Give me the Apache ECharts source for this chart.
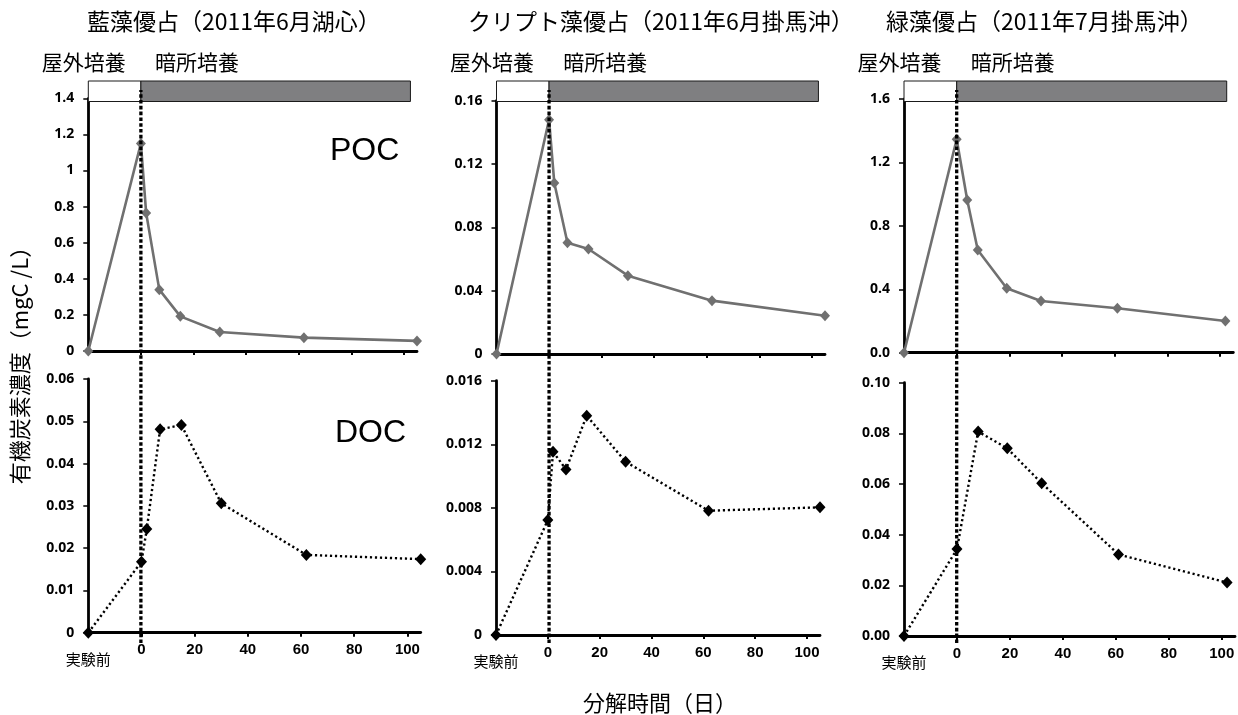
<!DOCTYPE html>
<html>
<head>
<meta charset="utf-8">
<script src="https://cdn.jsdelivr.net/npm/echarts@6/dist/echarts.min.js"></script>
<style>
  html, body { margin: 0; padding: 0; background: #fff; }
  #chart { width: 1238px; height: 715px; }
</style>
</head>
<body>
<div id="chart"></div>
<script>
// ---- data -----------------------------------------------------------
// The sample taken before the experiment is plotted at day -20 ("実験前").
const PRE_DAY = -20;

const panelTitles = ['藍藻優占（2011年6月湖心）', 'クリプト藻優占（2011年6月掛馬沖）', '緑藻優占（2011年7月掛馬沖）'];
const phaseNames = ['屋外培養', '暗所培養'];
// outdoor culture until day 0, then dark incubation
const phaseStart = [PRE_DAY, 0];
const phaseEnd = [0, 102.5];

// 藍藻優占 (湖心)
const pocDays1 = [PRE_DAY, 0, 2, 7, 15, 30, 62, 105];
const pocValues1 = [0, 1.15, 0.765, 0.34, 0.192, 0.105, 0.074, 0.056];
const docDays1 = [PRE_DAY, 0, 2, 7, 15, 30, 62, 105];
const docValues1 = [0, 0.0168, 0.0245, 0.0481, 0.0491, 0.0306, 0.0184, 0.0174];

// クリプト藻優占 (掛馬沖)
const pocDays2 = [PRE_DAY, 0, 2, 7, 15, 30, 62, 105];
const pocValues2 = [0, 0.148, 0.108, 0.0703, 0.0663, 0.0495, 0.0337, 0.0242];
const docDays2 = [PRE_DAY, 0, 2, 7, 15, 30, 62, 105];
const docValues2 = [0, 0.00723, 0.01153, 0.01042, 0.0138, 0.0109, 0.00782, 0.00803];

// 緑藻優占 (掛馬沖)
const pocDays3 = [PRE_DAY, 0, 4, 8, 19, 32, 61, 102];
const pocValues3 = [0, 1.346, 0.963, 0.648, 0.406, 0.326, 0.280, 0.200];
const docDays3 = [PRE_DAY, 0, 8, 19, 32, 61, 102];
const docValues3 = [0, 0.0343, 0.0807, 0.0741, 0.0603, 0.0322, 0.0211];

// ---- axes -----------------------------------------------------------
const dayMin = PRE_DAY;
const dayMax = 105;
const dayStep = 20;
const dayTicks = [0, 20, 40, 60, 80, 100];
const dayLabels = [PRE_DAY, 0, 20, 40, 60, 80, 100];
const preLabel = '実験前';

const pocAxisMax = [1.4, 0.16, 1.6];
const pocAxisStep = [0.2, 0.04, 0.4];
const pocAxisDigits = [null, null, 1];
const docAxisMax = [0.06, 0.016, 0.10];
const docAxisStep = [0.01, 0.004, 0.02];
const docAxisDigits = [null, null, 2];

const yAxisTitle = '有機炭素濃度（mgC /L）';
const xAxisTitle = '分解時間（日）';
const pocName = 'POC';
const docName = 'DOC';

// ---- layout (pixel boxes of each panel) ------------------------------
const boxes = [
  { pocL: 88.3, pocR: 417,    docL: 88.3, docR: 420.7, pocT: 98.3,  pocB: 351,   docT: 379,   docB: 632.7, titleX: 87 },
  { pocL: 496.5, pocR: 825,   docL: 496,  docR: 820,   pocT: 100.7, pocB: 354,   docT: 380.7, docB: 635,   titleX: 468 },
  { pocL: 904,  pocR: 1233.3, docL: 904,  docR: 1235,  pocT: 99,    pocB: 352.7, docT: 382.7, docB: 636,   titleX: 886 }
];

const pocDays = [pocDays1, pocDays2, pocDays3];
const pocValues = [pocValues1, pocValues2, pocValues3];
const docDays = [docDays1, docDays2, docDays3];
const docValues = [docValues1, docValues2, docValues3];

const CJK = '"Noto Sans CJK JP", sans-serif';
const NUM = '"Open Sans", "Liberation Sans", sans-serif';
const XNUM = '"Liberation Sans", Arial, sans-serif';

const grid = [], xAxis = [], yAxis = [], series = [], graphic = [];

function pairs(xs, ys) { return xs.map((x, i) => [x, ys[i]]); }

function dayAxis(gridIndex, showLabels) {
  return {
    type: 'value', gridIndex, min: dayMin, max: dayMax, interval: dayStep,
    splitLine: { show: false },
    axisLine: { show: true, onZero: false, lineStyle: { color: '#000', width: 2.8 } },
    axisTick: { show: true, inside: false, length: 4, customValues: dayTicks,
                lineStyle: { color: '#000', width: 2 } },
    axisLabel: {
      show: showLabels, margin: 10, customValues: dayLabels,
      color: '#000', fontFamily: XNUM, fontWeight: 'bold', fontSize: 15,
      formatter: v => v === PRE_DAY ? '{pre|' + preLabel + '}' : (dayLabels.indexOf(v) >= 0 ? String(v) : ''),
      rich: { pre: { fontFamily: CJK, fontSize: 15, fontWeight: 'normal', color: '#000', padding: [9, 0, 0, 0] } }
    }
  };
}

function valueAxis(gridIndex, max, step, digits) {
  return {
    type: 'value', gridIndex, min: 0, max, interval: step,
    splitLine: { show: false },
    axisLine: { show: true, onZero: false, lineStyle: { color: '#000', width: 2.8 } },
    axisTick: { show: true, inside: false, length: 5, lineStyle: { color: '#000', width: 1.5 } },
    axisLabel: {
      margin: 14, color: '#000', fontFamily: NUM, fontWeight: 'bold', fontSize: 14,
      formatter: v => digits == null ? String(+v.toFixed(6)) : v.toFixed(digits)
    }
  };
}

function hiddenAxis(gridIndex, isX) {
  return isX
    ? { type: 'value', gridIndex, min: dayMin, max: dayMax, show: false }
    : { type: 'value', gridIndex, min: 0, max: 1, show: false };
}

boxes.forEach((b, p) => {
  // POC plot
  const gPoc = grid.length;
  grid.push({ left: b.pocL, top: b.pocT, width: b.pocR - b.pocL, height: b.pocB - b.pocT });
  xAxis.push(dayAxis(gPoc, false));
  yAxis.push(valueAxis(gPoc, pocAxisMax[p], pocAxisStep[p], pocAxisDigits[p]));
  series.push({
    type: 'line', xAxisIndex: gPoc, yAxisIndex: gPoc, name: pocName,
    data: pairs(pocDays[p], pocValues[p]), clip: false,
    symbol: 'diamond', symbolSize: [10, 11], z: 4,
    lineStyle: { color: '#707070', width: 2.6 },
    itemStyle: { color: '#707070' }
  });

  // DOC plot
  const gDoc = grid.length;
  grid.push({ left: b.docL, top: b.docT, width: b.docR - b.docL, height: b.docB - b.docT });
  xAxis.push(dayAxis(gDoc, true));
  yAxis.push(valueAxis(gDoc, docAxisMax[p], docAxisStep[p], docAxisDigits[p]));
  series.push({
    type: 'line', xAxisIndex: gDoc, yAxisIndex: gDoc, name: docName,
    data: pairs(docDays[p], docValues[p]), clip: false,
    symbol: 'diamond', symbolSize: [11, 12], z: 4,
    lineStyle: { color: '#000', width: 2.4, type: [2.2, 2.8] },
    itemStyle: { color: '#000' }
  });

  // culture-phase strip above the POC plot
  const gStrip = grid.length;
  grid.push({ left: b.pocL, top: 81, width: b.pocR - b.pocL, height: 20.5 });
  xAxis.push(hiddenAxis(gStrip, true));
  yAxis.push(hiddenAxis(gStrip, false));
  series.push({
    type: 'custom', xAxisIndex: gStrip, yAxisIndex: gStrip, z: 5, silent: true,
    data: phaseStart.map((s, i) => [s, phaseEnd[i]]),
    renderItem: (params, api) => {
      const a = api.coord([api.value(0), 1]);
      const c = api.coord([api.value(1), 0]);
      return {
        type: 'rect',
        shape: { x: a[0], y: a[1], width: c[0] - a[0], height: c[1] - a[1] },
        style: { fill: params.dataIndex === 0 ? '#ffffff' : '#7f7f81', stroke: '#1a1a1a', lineWidth: 1 }
      };
    }
  });

  // boundary between the two phases, running through both plots
  const gLine = grid.length;
  grid.push({ left: b.pocL, top: 90, width: b.pocR - b.pocL, height: 553 });
  xAxis.push(hiddenAxis(gLine, true));
  yAxis.push(hiddenAxis(gLine, false));
  series.push({
    type: 'line', xAxisIndex: gLine, yAxisIndex: gLine, z: 6, silent: true,
    data: [[phaseStart[1], 0], [phaseStart[1], 1]], symbol: 'none', clip: false,
    lineStyle: { color: '#000', width: 3.3, type: [3.6, 2.2] }
  });

  // panel title and phase names
  graphic.push({
    type: 'text', x: b.titleX, y: 21,
    style: { text: panelTitles[p], font: '23px ' + CJK, fill: '#000',
             align: 'left', verticalAlign: 'middle', textAlign: 'left', textVerticalAlign: 'middle' }
  });
  graphic.push({
    type: 'text', x: b.pocL - 46.6, y: 62,
    style: { text: phaseNames[0], font: '21px ' + CJK, fill: '#000',
             align: 'left', verticalAlign: 'middle', textAlign: 'left', textVerticalAlign: 'middle' }
  });
  graphic.push({
    type: 'text', x: b.pocL + 66.7, y: 62,
    style: { text: phaseNames[1], font: '21px ' + CJK, fill: '#000',
             align: 'left', verticalAlign: 'middle', textAlign: 'left', textVerticalAlign: 'middle' }
  });
});

// series names inside the first panel
graphic.push({
  type: 'text', x: 330, y: 151,
  style: { text: pocName, font: '32px "Liberation Sans", Arial, sans-serif', fill: '#000',
           align: 'left', verticalAlign: 'middle', textAlign: 'left', textVerticalAlign: 'middle' }
});
graphic.push({
  type: 'text', x: 335, y: 433,
  style: { text: docName, font: '32px "Liberation Sans", Arial, sans-serif', fill: '#000',
           align: 'left', verticalAlign: 'middle', textAlign: 'left', textVerticalAlign: 'middle' }
});

// shared axis titles
graphic.push({
  type: 'text', x: 20, y: 360, rotation: Math.PI / 2,
  style: { text: yAxisTitle, font: '22px ' + CJK, fill: '#000',
           align: 'center', verticalAlign: 'middle', textAlign: 'center', textVerticalAlign: 'middle' }
});
graphic.push({
  type: 'text', x: 660, y: 703,
  style: { text: xAxisTitle, font: '22px ' + CJK, fill: '#000',
           align: 'center', verticalAlign: 'middle', textAlign: 'center', textVerticalAlign: 'middle' }
});

const chart = echarts.init(document.getElementById('chart'), null, { renderer: 'canvas' });
chart.setOption({
  animation: false,
  backgroundColor: '#fff',
  grid, xAxis, yAxis, series, graphic
});
</script>
</body>
</html>
